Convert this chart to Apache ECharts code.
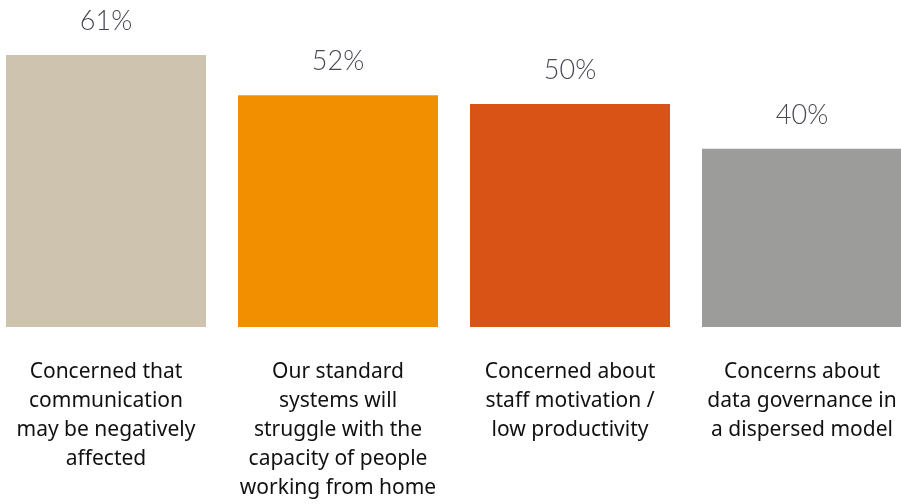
<!DOCTYPE html>
<html>
<head>
<meta charset="utf-8">
<script src="https://cdn.jsdelivr.net/npm/echarts@6/dist/echarts.min.js"></script>
<style>
  html, body { margin: 0; padding: 0; background: #ffffff; overflow: hidden; width: 901px; height: 504px; position: relative; }
  /* plot is slightly wider than the page so the outer bars sit flush with its edges */
  #chart { position: absolute; left: -10px; top: 0; width: 928px; height: 504px; }
</style>
</head>
<body>
<div id="chart"></div>
<script>
// Survey concerns about remote working (share of respondents, %)
const categories = [
  'Concerned that\ncommunication\nmay be negatively\naffected',
  'Our standard\nsystems will\nstruggle with the\ncapacity of people\nworking from home',
  'Concerned about\nstaff motivation /\nlow productivity',
  'Concerns about\ndata governance in\na dispersed model'
];
const values = [61, 52, 50, 40];
const barColors = ['#CEC3AE', '#F28F00', '#DA5316', '#9C9C9B'];

const chart = echarts.init(document.getElementById('chart'), null, { renderer: 'canvas' });

chart.setOption({
  animation: false,
  backgroundColor: '#ffffff',
  grid: { left: 0, right: 0, top: 55, bottom: 177, containLabel: false },
  xAxis: {
    type: 'category',
    data: categories,
    axisLine: { show: false },
    axisTick: { show: false },
    axisLabel: {
      interval: 0,
      margin: 31,
      color: '#111111',
      fontSize: 21,
      lineHeight: 29,
      fontFamily: '"Noto Sans", Lato, sans-serif',
      align: 'center',
      verticalAlign: 'top'
    }
  },
  yAxis: {
    type: 'value',
    min: 0,
    max: 61,
    show: false,
    splitLine: { show: false }
  },
  series: [{
    type: 'bar',
    barWidth: 200,
    data: values.map((v, i) => ({ value: v, itemStyle: { color: barColors[i] } })),
    label: {
      show: true,
      position: 'top',
      distance: 20,
      formatter: '{c}%',
      color: '#4A4A55',
      fontSize: 27,
      fontWeight: 300,
      fontFamily: 'Lato, "Noto Sans", sans-serif'
    }
  }]
});
</script>
</body>
</html>
